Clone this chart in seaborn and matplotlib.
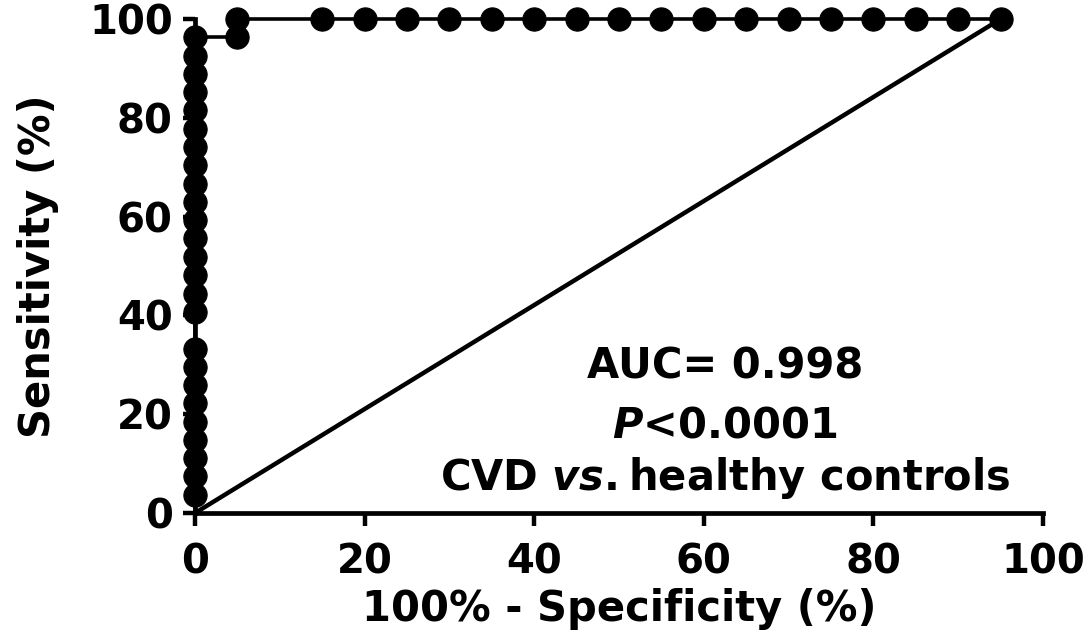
import matplotlib
matplotlib.use("Agg")
import matplotlib.pyplot as plt
import seaborn as sns
import pandas as pd

# ROC points (x = 100% - specificity, y = sensitivity)
fpr = [0, 0, 0, 0, 0, 0, 0, 0, 0, 0, 0, 0, 0, 0, 0, 0, 0, 0, 0, 0, 0, 0, 0, 0, 0, 0,
       5, 5, 15, 20, 25, 30, 35, 40, 45, 50, 55, 60, 65, 70, 75, 80, 85, 90, 95]
sens = [0, 3.7, 7.4, 11.1, 14.8, 18.5, 22.2, 25.9, 29.6, 33.3, 40.7, 44.4, 48.1,
        51.9, 55.6, 59.3, 63.0, 66.7, 70.4, 74.1, 77.8, 81.5, 85.2, 88.9, 92.6, 96.3,
        96.3, 100, 100, 100, 100, 100, 100, 100, 100, 100, 100, 100, 100, 100, 100,
        100, 100, 100, 100]

# reference (identity) line as drawn
ref_x = [0, 95]
ref_y = [0, 100]

ticks = [0, 20, 40, 60, 80, 100]
annot = ["AUC= 0.998", "$\\it{P}$<0.0001",
         "$\\mathrm{CVD}\\ \\it{vs.}\\mathrm{healthy\\ controls}$"]

roc = pd.DataFrame({"fpr": fpr, "sens": sens})
ref = pd.DataFrame({"x": ref_x, "y": ref_y})

sns.set_style("ticks")
plt.rcParams['font.family'] = ['DejaVu Sans']
plt.rcParams['font.weight'] = 'bold'
plt.rcParams['text.color'] = 'black'
plt.rcParams['axes.labelcolor'] = 'black'
plt.rcParams['xtick.color'] = 'black'
plt.rcParams['ytick.color'] = 'black'
plt.rcParams['mathtext.fontset'] = 'custom'
plt.rcParams['mathtext.it'] = 'DejaVu Sans:italic:bold'
plt.rcParams['mathtext.rm'] = 'DejaVu Sans:bold'

fig = plt.figure(figsize=(10.92, 6.4), dpi=100)
ax = fig.add_axes([0.1786, 0.1984, 0.7766, 0.7719])

sns.lineplot(data=ref, x="x", y="y", color="black", linewidth=3.2, ax=ax)
sns.lineplot(data=roc, x="fpr", y="sens", sort=False, estimator=None,
             color="black", linewidth=2.6, ax=ax)
sns.scatterplot(data=roc.iloc[1:], x="fpr", y="sens", color="black",
                edgecolor="black", s=280, linewidth=0.8, ax=ax, zorder=5)
for c in ax.collections:
    c.set_clip_on(False)
for l in ax.lines:
    l.set_clip_on(False)

ax.set_xlim(0, 100)
ax.set_ylim(0, 100)
ax.set_xticks(ticks)
ax.set_yticks(ticks)
ax.tick_params(axis="both", length=9, width=3.2, labelsize=29, color="black",
               labelcolor="black")
ax.tick_params(axis="x", pad=12)
ax.tick_params(axis="y", pad=7)
for lab in ax.get_xticklabels() + ax.get_yticklabels():
    lab.set_fontweight("bold")

sns.despine(ax=ax)
for side in ["left", "bottom"]:
    ax.spines[side].set_linewidth(3.4)
    ax.spines[side].set_color("black")

ax.set_xlabel("100% - Specificity (%)", fontsize=30, fontweight="bold", labelpad=4)
ax.set_ylabel("Sensitivity (%)", fontsize=30, fontweight="bold", labelpad=22)

ax.text(62.5, 29.6, annot[0], ha="center", va="center", fontsize=30, fontweight="bold")
ax.text(62.5, 17.8, annot[1], ha="center", va="center", fontsize=30, fontweight="bold")
ax.text(62.5, 7.1, annot[2], ha="center", va="center", fontsize=30, fontweight="bold")

fig.savefig("out.png", dpi=100)
